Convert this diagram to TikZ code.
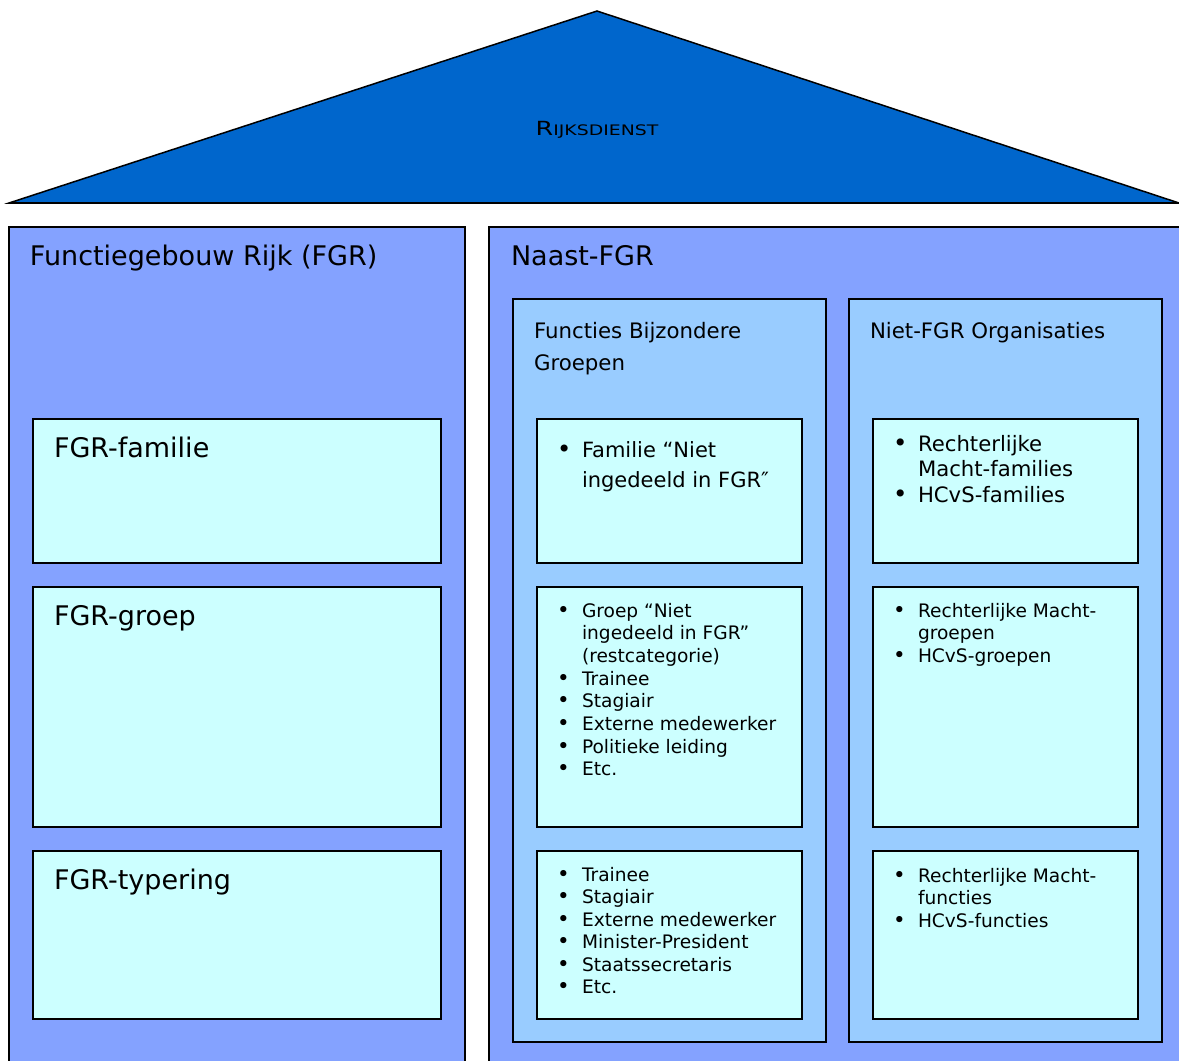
\documentclass[tikz,border=0pt]{standalone}
\usepackage{fontspec}
\setmainfont{DejaVu Sans}
\definecolor{roofblue}{RGB}{0,102,204}
\definecolor{outerblue}{RGB}{132,162,255}
\definecolor{colblue}{RGB}{153,204,255}
\definecolor{cellcyan}{RGB}{204,255,255}
\newcommand{\myb}{\makebox[25pt][l]{\scalebox{1.15}{•}}}
\tikzset{
  panel/.style={draw=black, line width=1.5pt, inner sep=0pt, outer sep=0pt, anchor=north west},
  bigpanel/.style={panel, fill=outerblue, minimum width=456, minimum height=870},
  colpanel/.style={panel, fill=colblue, minimum width=313, minimum height=743},
  cellbox/.style={panel, fill=cellcyan},
  lbl/.style={inner sep=0pt, outer sep=0pt, anchor=base west, align=left},
  bigtxt/.style={lbl, font=\fontsize{27}{32}\selectfont},
  midtxt/.style={lbl, font=\fontsize{21.3}{32}\selectfont},
}
\begin{document}
\begin{tikzpicture}[x=1pt,y=-1pt]
\useasboundingbox (0,0) rectangle (1179,1061);
\clip (0,0) rectangle (1179,1061);
% roof
\filldraw[fill=roofblue, draw=black, line width=1.5pt, line join=miter] (597,11) -- (9,203) -- (1179,203) -- cycle;
\draw[line width=2.5pt] (9,203) -- (1179,203);
\node[inner sep=0pt, anchor=base] (roof) at (597,135)
  {\scalebox{1.3}[1]{\fontsize{19.5}{20}\selectfont R\fontsize{14.5}{20}\selectfont IJKSDIENST}};
% big panels
\node[bigpanel] (fgr) at (9,227) {};
\node[bigpanel, minimum width=720] (naast) at (489,227) {};
\node[bigtxt] (fgrtitle) at (30,265) {Functiegebouw Rijk (FGR)};
\node[bigtxt] (naasttitle) at (511,265) {Naast-FGR};
% FGR cells
\node[cellbox, minimum width=408, minimum height=144] (fam) at (33,419) {};
\node[cellbox, minimum width=408, minimum height=240] (grp) at (33,587) {};
\node[cellbox, minimum width=408, minimum height=168] (typ) at (33,851) {};
\node[bigtxt] (famtxt) at (54,457) {FGR-familie};
\node[bigtxt] (grptxt) at (54,625) {FGR-groep};
\node[bigtxt] (typtxt) at (54,889) {FGR-typering};
% columns
\node[colpanel] (fbg) at (513,299) {};
\node[colpanel] (nfo) at (849,299) {};
\node[midtxt] (fbgtitle) at (534,338) {\begin{tabular}[t]{@{}l@{}}Functies Bijzondere\\Groepen\end{tabular}};
\node[midtxt] (nfotitle) at (870,338) {Niet-FGR Organisaties};
% middle cells
\node[cellbox, minimum width=265, minimum height=144] (fbgfam) at (537,419) {};
\node[cellbox, minimum width=265, minimum height=240] (fbggrp) at (537,587) {};
\node[cellbox, minimum width=265, minimum height=168] (fbgtyp) at (537,851) {};
% right cells
\node[cellbox, minimum width=265, minimum height=144] (nfofam) at (873,419) {};
\node[cellbox, minimum width=265, minimum height=240] (nfogrp) at (873,587) {};
\node[cellbox, minimum width=265, minimum height=168] (nfotyp) at (873,851) {};
% lists
\node[lbl] (fbgfamtxt) at (557,457) {\fontsize{21}{30.7}\selectfont
  \begin{tabular}[t]{@{}l@{}l@{}}
  \myb & Familie “Niet\\
       & ingedeeld in FGR″
  \end{tabular}};
\node[lbl] (nfofamtxt) at (893,451) {\fontsize{21.2}{25.8}\selectfont
  \begin{tabular}[t]{@{}l@{}l@{}}
  \myb & Rechterlijke\\
       & Macht-families\\
  \myb & HCvS-families
  \end{tabular}};
\node[lbl] (fbggrptxt) at (557,617) {\fontsize{18.6}{22.7}\selectfont
  \begin{tabular}[t]{@{}l@{}l@{}}
  \myb & Groep “Niet\\
       & ingedeeld in FGR”\\
       & (restcategorie)\\
  \myb & Trainee\\
  \myb & Stagiair\\
  \myb & Externe medewerker\\
  \myb & Politieke leiding\\
  \myb & Etc.
  \end{tabular}};
\node[lbl] (nfogrptxt) at (893,617) {\fontsize{18.6}{22.7}\selectfont
  \begin{tabular}[t]{@{}l@{}l@{}}
  \myb & Rechterlijke Macht-\\
       & groepen\\
  \myb & HCvS-groepen
  \end{tabular}};
\node[lbl] (fbgtyptxt) at (557,881) {\fontsize{18.6}{22.5}\selectfont
  \begin{tabular}[t]{@{}l@{}l@{}}
  \myb & Trainee\\
  \myb & Stagiair\\
  \myb & Externe medewerker\\
  \myb & Minister-President\\
  \myb & Staatssecretaris\\
  \myb & Etc.
  \end{tabular}};
\node[lbl] (nfotyptxt) at (893,882) {\fontsize{18.6}{22.7}\selectfont
  \begin{tabular}[t]{@{}l@{}l@{}}
  \myb & Rechterlijke Macht-\\
       & functies\\
  \myb & HCvS-functies
  \end{tabular}};
\end{tikzpicture}
\end{document}
